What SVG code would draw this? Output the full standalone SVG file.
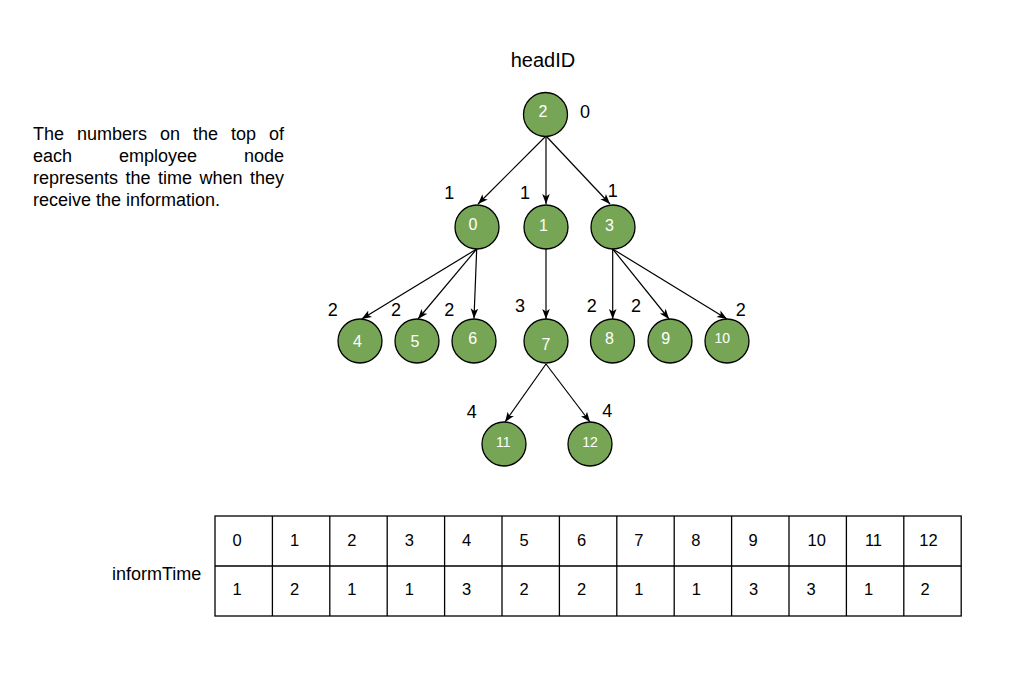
<svg xmlns="http://www.w3.org/2000/svg" width="1014" height="686" viewBox="0 0 1014 686">
<style>
text{font-family:"Liberation Sans",Arial,sans-serif;fill:#000}
.node circle{fill:#77a556;stroke:#000;stroke-width:1.3}
.node text{fill:#fff;font-size:16px;text-anchor:middle}
.node text.s{font-size:14px}
.lbl{font-size:18px;text-anchor:middle}
.edge{stroke:#000;stroke-width:1.2;fill:none;marker-end:url(#arr)}
.para{font-size:18px}
.cell{font-size:16.5px}
.grid{stroke:#000;stroke-width:1.3;fill:none}
</style>
<defs>
<marker id="arr" viewBox="0 0 10 10" refX="10" refY="5" markerWidth="10" markerHeight="10" markerUnits="userSpaceOnUse" orient="auto">
<path d="M0,1.2 L10,5 L0,8.8 L2.5,5 Z" fill="#000"/>
</marker>
</defs>
<rect width="1014" height="686" fill="#fff"/>

<text x="543" y="67" font-size="20" text-anchor="middle">headID</text>

<g id="description" class="para">
<text x="33" y="140">The</text><text x="77" y="140">numbers</text><text x="160" y="140">on</text><text x="193" y="140">the</text><text x="231" y="140">top</text><text x="284" y="140" text-anchor="end">of</text>
<text x="33" y="162">each</text><text x="119" y="162">employee</text><text x="284" y="162" text-anchor="end">node</text>
<text x="33" y="184">represents</text><text x="125.5" y="184">the</text><text x="158" y="184">time</text><text x="199.5" y="184">when</text><text x="284" y="184" text-anchor="end">they</text>
<text x="33" y="206">receive the information.</text>
</g>

<g id="connectors">
<line class="edge" x1="546" y1="136" x2="478" y2="204"/>
<line class="edge" x1="546" y1="136" x2="546" y2="204"/>
<line class="edge" x1="546" y1="136" x2="610" y2="204"/>
<line class="edge" x1="476.7" y1="249" x2="361.7" y2="319"/>
<line class="edge" x1="476.7" y1="249" x2="418" y2="319"/>
<line class="edge" x1="476.7" y1="249" x2="474" y2="318.5"/>
<line class="edge" x1="546" y1="249" x2="546" y2="319"/>
<line class="edge" x1="612.7" y1="249" x2="612.7" y2="319"/>
<line class="edge" x1="612.7" y1="249" x2="669" y2="319"/>
<line class="edge" x1="612.7" y1="249" x2="727" y2="319"/>
<line class="edge" x1="546" y1="364" x2="505" y2="422"/>
<line class="edge" x1="546" y1="364" x2="590" y2="422"/>
</g>

<g id="node2" class="node"><circle cx="545.5" cy="114.5" r="22"/><text x="543" y="116.5">2</text></g>
<g id="node0" class="node"><circle cx="477" cy="227" r="22"/><text x="473" y="229.5">0</text></g>
<g id="node1" class="node"><circle cx="546" cy="227" r="22"/><text x="543.5" y="230.5">1</text></g>
<g id="node3" class="node"><circle cx="613" cy="227" r="22"/><text x="609.5" y="230.5">3</text></g>
<g id="node4" class="node"><circle cx="360" cy="341" r="22"/><text x="357.5" y="346.5">4</text></g>
<g id="node5" class="node"><circle cx="417" cy="341" r="22"/><text x="415" y="346.5">5</text></g>
<g id="node6" class="node"><circle cx="474" cy="341" r="22"/><text x="472.7" y="343.5">6</text></g>
<g id="node7" class="node"><circle cx="546" cy="341" r="22"/><text x="546" y="349.5">7</text></g>
<g id="node8" class="node"><circle cx="612.5" cy="341" r="22"/><text x="609.5" y="343.5">8</text></g>
<g id="node9" class="node"><circle cx="670" cy="341" r="22"/><text x="665.7" y="343.5">9</text></g>
<g id="node10" class="node"><circle cx="727" cy="341" r="22"/><text class="s" x="722.3" y="343">10</text></g>
<g id="node11" class="node"><circle cx="504" cy="444" r="22"/><text class="s" x="503.3" y="446.8">11</text></g>
<g id="node12" class="node"><circle cx="590" cy="444" r="22"/><text class="s" x="590" y="446.8">12</text></g>

<g id="time-labels" class="lbl">
<text x="585" y="117.5">0</text>
<text x="449.3" y="199.2">1</text>
<text x="525" y="199.2">1</text>
<text x="612.7" y="196.5">1</text>
<text x="332.7" y="315.8">2</text>
<text x="396" y="315.8">2</text>
<text x="449.3" y="315.8">2</text>
<text x="520" y="311.5">3</text>
<text x="591.7" y="311.5">2</text>
<text x="636" y="311.5">2</text>
<text x="740.7" y="315.8">2</text>
<text x="471.7" y="418.2">4</text>
<text x="607.3" y="416.5">4</text>
</g>

<g id="informTime">
<text x="112" y="580" font-size="18">informTime</text>
<rect class="grid" x="215" y="516" width="746.2" height="100"/>
<line class="grid" x1="215" y1="566" x2="961.2" y2="566"/>
<g class="grid">
<line x1="272.4" y1="516" x2="272.4" y2="616"/>
<line x1="329.8" y1="516" x2="329.8" y2="616"/>
<line x1="387.2" y1="516" x2="387.2" y2="616"/>
<line x1="444.6" y1="516" x2="444.6" y2="616"/>
<line x1="502" y1="516" x2="502" y2="616"/>
<line x1="559.4" y1="516" x2="559.4" y2="616"/>
<line x1="616.8" y1="516" x2="616.8" y2="616"/>
<line x1="674.2" y1="516" x2="674.2" y2="616"/>
<line x1="731.6" y1="516" x2="731.6" y2="616"/>
<line x1="789" y1="516" x2="789" y2="616"/>
<line x1="846.4" y1="516" x2="846.4" y2="616"/>
<line x1="903.8" y1="516" x2="903.8" y2="616"/>
</g>
<g class="cell">
<text x="232.5" y="545.5">0</text>
<text x="289.9" y="545.5">1</text>
<text x="347.3" y="545.5">2</text>
<text x="404.7" y="545.5">3</text>
<text x="462.1" y="545.5">4</text>
<text x="519.5" y="545.5">5</text>
<text x="576.9" y="545.5">6</text>
<text x="634.3" y="545.5">7</text>
<text x="691.2" y="545.5">8</text>
<text x="748.6" y="545.5">9</text>
<text x="807.5" y="545.5">10</text>
<text x="864.9" y="545.5">11</text>
<text x="919.3" y="545.5">12</text>
<text x="232.5" y="595">1</text>
<text x="289.9" y="595">2</text>
<text x="347.3" y="595">1</text>
<text x="404.7" y="595">1</text>
<text x="462.1" y="595">3</text>
<text x="519.5" y="595">2</text>
<text x="576.9" y="595">2</text>
<text x="634.3" y="595">1</text>
<text x="691.7" y="595">1</text>
<text x="749.1" y="595">3</text>
<text x="806.5" y="595">3</text>
<text x="863.9" y="595">1</text>
<text x="920.5" y="595">2</text>
</g>
</g>
</svg>
